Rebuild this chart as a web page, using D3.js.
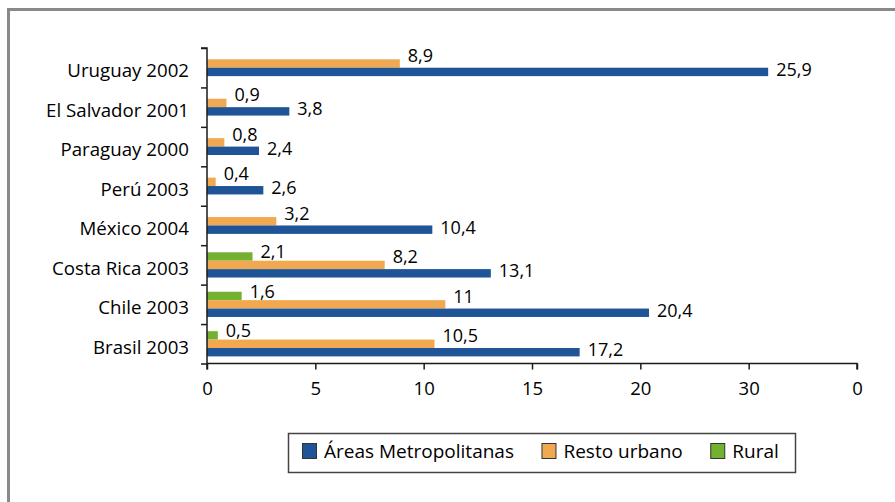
<!DOCTYPE html>
<html>
<head>
<meta charset="utf-8">
<script src="https://cdn.jsdelivr.net/npm/d3@7"></script>
<style>
  body { margin: 0; background: #fff; }
  svg { display: block; font-family: "Open Sans", "Noto Sans", sans-serif; }
</style>
</head>
<body>
<div id="chart"></div>
<script>
// categories, top to bottom
const countries = ["Uruguay 2002", "El Salvador 2001", "Paraguay 2000", "Perú 2003",
  "México 2004", "Costa Rica 2003", "Chile 2003", "Brasil 2003"];

// series values (null = no bar)
const metro = [25.9, 3.8, 2.4, 2.6, 10.4, 13.1, 20.4, 17.2];
const restoUrbano = [8.9, 0.9, 0.8, 0.4, 3.2, 8.2, 11, 10.5];
const rural = [null, null, null, null, null, 2.1, 1.6, 0.5];

const seriesNames = ["Áreas Metropolitanas", "Resto urbano", "Rural"];
const tickVals = [0, 5, 10, 15, 20, 25, 30];
const tickLabels = ["0", "5", "10", "15", "20", "30", "0"];

const width = 895;
const height = 502;
const colors = { "Áreas Metropolitanas": "#1f5597", "Resto urbano": "#f0a851", "Rural": "#72b230" };
// vertical nudge for value labels per series
const labelShift = { "Áreas Metropolitanas": -2.5, "Resto urbano": -8, "Rural": -4.5 };

const svg = d3.select("#chart").append("svg")
    .attr("width", width)
    .attr("height", height);

// outer frame (runs off the right/bottom edge)
svg.append("rect")
    .attr("x", 8.5).attr("y", 9.5)
    .attr("width", 1000).attr("height", 1000)
    .attr("fill", "none")
    .attr("stroke", "#898989")
    .attr("stroke-width", 3);

const plot = { left: 207, right: 857, top: 48, bottom: 363.5 };

const x = d3.scaleLinear().domain([0, 30]).range([plot.left, plot.right]);
const y0 = d3.scaleBand().domain(countries).range([plot.top, plot.bottom])
    .paddingInner(0.36).paddingOuter(0.18);
const barH = y0.bandwidth() / 3;

// rows: one per country, with the series that have a value
const rows = countries.map((c, i) => {
    const vals = [
        { key: "Rural", value: rural[i] },
        { key: "Resto urbano", value: restoUrbano[i] },
        { key: "Áreas Metropolitanas", value: metro[i] }
    ].filter(d => d.value != null);
    const center = y0(c) + y0.bandwidth() / 2;
    const y1 = d3.scaleBand().domain(vals.map(d => d.key))
        .range([center - vals.length * barH / 2, center + vals.length * barH / 2]);
    return { country: c, vals: vals.map(d => ({ ...d, y: y1(d.key), h: y1.bandwidth() })) };
});

const groups = svg.append("g").selectAll("g")
    .data(rows)
    .join("g");

groups.selectAll("rect")
    .data(d => d.vals)
    .join("rect")
    .attr("x", x(0))
    .attr("y", d => d.y)
    .attr("width", d => x(d.value) - x(0))
    .attr("height", d => d.h)
    .attr("fill", d => colors[d.key]);

groups.selectAll("text")
    .data(d => d.vals)
    .join("text")
    .attr("x", d => x(d.value) + 8)
    .attr("y", d => d.y + d.h / 2 + labelShift[d.key])
    .attr("dy", "0.36em")
    .attr("font-size", 18)
    .attr("fill", "#000")
    .text(d => String(d.value).replace(".", ","));

// y axis: boundary ticks between categories
const yIdx = d3.scaleLinear().domain([0, countries.length]).range([plot.top, plot.bottom]);
svg.append("g")
    .attr("transform", `translate(${plot.left},0)`)
    .call(d3.axisLeft(yIdx).ticks(countries.length).tickSize(6).tickFormat(""))
    .call(g => g.selectAll("line, path").attr("stroke", "#1a1a1a").attr("stroke-width", 1.5))
    .call(g => g.select(".domain").attr("d", `M-6,${plot.top}H0V${plot.bottom + 6}`));

// category labels
svg.append("g")
    .attr("transform", `translate(${plot.left},0)`)
    .call(d3.axisLeft(y0).tickSize(0).tickPadding(18))
    .call(g => g.select(".domain").remove())
    .call(g => g.selectAll("text")
        .attr("font-size", 18.7)
        .attr("font-family", "'Open Sans', sans-serif")
        .attr("fill", "#000")
        .attr("dy", "0.52em"));

// x axis
svg.append("g")
    .attr("transform", `translate(0,${plot.bottom})`)
    .call(d3.axisBottom(x).tickValues(tickVals).tickSize(6).tickPadding(12)
        .tickFormat((d, i) => tickLabels[i]))
    .call(g => g.selectAll("line, path").attr("stroke", "#1a1a1a").attr("stroke-width", 1.5))
    .call(g => g.select(".domain").attr("d", `M${plot.left},0H${plot.right}V6`))
    .call(g => g.selectAll("text")
        .attr("font-size", 18.5)
        .attr("font-family", "'Open Sans', sans-serif")
        .attr("fill", "#000"));

// legend
const legend = svg.append("g");
legend.append("rect")
    .attr("x", 288.5).attr("y", 433.5)
    .attr("width", 507).attr("height", 39)
    .attr("fill", "#fff")
    .attr("stroke", "#444")
    .attr("stroke-width", 1.5);

let lx = 302;
seriesNames.forEach(name => {
    legend.append("rect")
        .attr("x", lx + 0.5).attr("y", 443.5)
        .attr("width", 14).attr("height", 15)
        .attr("fill", colors[name])
        .attr("stroke", "#333")
        .attr("stroke-width", 1);
    const t = legend.append("text")
        .attr("x", lx + 22)
        .attr("y", 458)
        .attr("font-size", 19)
        .attr("fill", "#000")
        .text(name);
    lx += 22 + t.node().getComputedTextLength() + 27.5;
});
</script>
</body>
</html>
